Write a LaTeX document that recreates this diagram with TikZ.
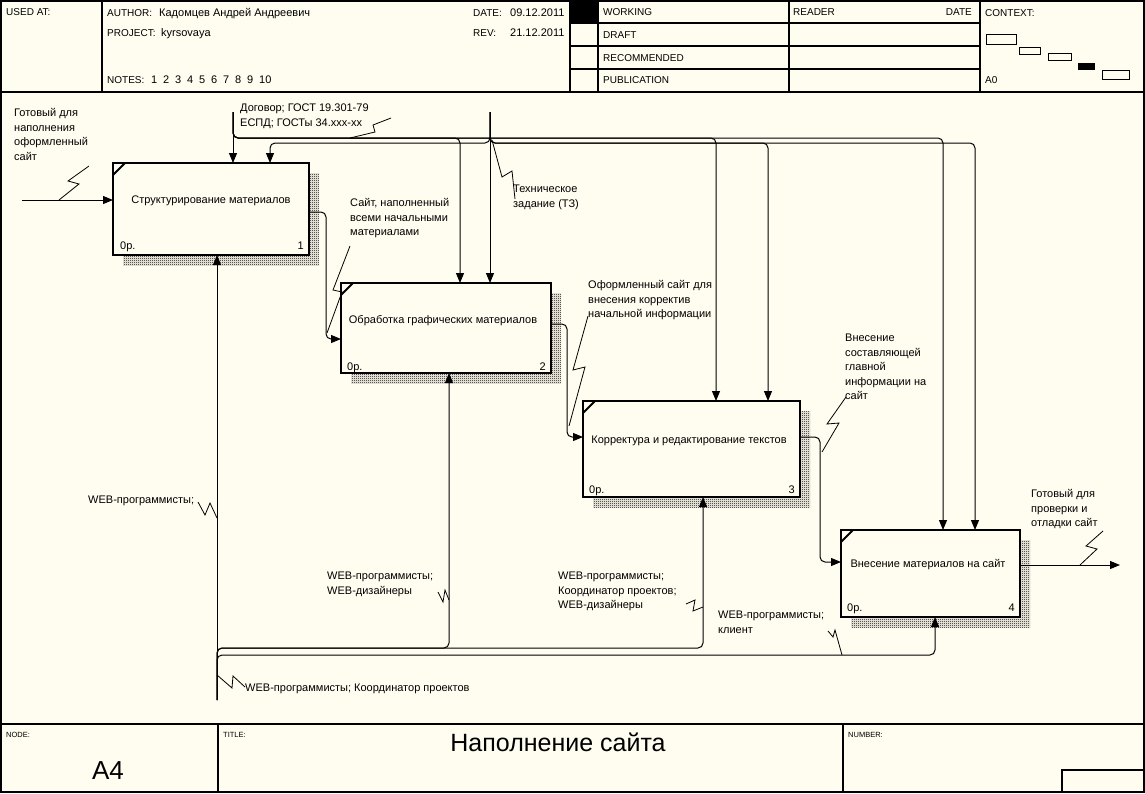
\documentclass[tikz,border=0pt]{standalone}
\usepackage{fontspec}
\setmainfont{Liberation Sans}
\usetikzlibrary{arrows.meta,patterns}
\definecolor{bgc}{RGB}{255,252,240}
\pgfdeclarepatternformonly{idefdots}{\pgfpointorigin}{\pgfpoint{2pt}{2pt}}{\pgfpoint{2pt}{2pt}}{%
 \pgfpathrectangle{\pgfpointorigin}{\pgfpoint{1pt}{1pt}}%
 \pgfpathrectangle{\pgfpoint{1pt}{1pt}}{\pgfpoint{1pt}{1pt}}%
 \pgfusepath{fill}}
\newcommand\idlf{\fontsize{11}{14.5}\selectfont}
\newcommand\idhf{\fontsize{10}{12}\selectfont}
\newcommand\idsm{\fontsize{7.5}{9}\selectfont}
\begin{document}
\begin{tikzpicture}[x=1pt,y=-1pt,
  conn/.style={line width=1pt,-{Triangle[length=10pt,width=8pt]},rounded corners=5pt},
  squig/.style={line width=0.8pt},
  lbl/.style={font=\idlf,inner sep=0pt,anchor=north west,align=left},
  txt/.style={font=\idlf,inner sep=0pt,anchor=base west},
  txtr/.style={font=\idlf,inner sep=0pt,anchor=base east},
  htxt/.style={font=\idhf,inner sep=0pt,anchor=base west},
  htxtr/.style={font=\idhf,inner sep=0pt,anchor=base east},
  smtxt/.style={font=\idsm,inner sep=0pt,anchor=base west},
  actbox/.style={draw,line width=2pt,fill=bgc,anchor=north west,inner sep=0pt,outer sep=0pt},
  btext/.style={font=\idlf,inner sep=0pt},
  shadow/.style={pattern=idefdots},
  tick/.style={line width=2pt},
  frame/.style={line width=1.5pt},
  thinframe/.style={line width=1.2pt}]
% background and bounding box
\fill[bgc] (0,0) rectangle (1145,793);
\useasboundingbox (0,0) rectangle (1145,793);

% ---------- frame / header ----------
\draw[frame] (1,1) rectangle (1144,792);
\draw[frame] (1,92) -- (1144,92);
\draw[frame] (102,1) -- (102,92);
\draw[frame] (570,1) -- (570,92);
\draw[thinframe] (598,1) -- (598,92);
\draw[thinframe] (789,1) -- (789,92);
\draw[frame] (980,1) -- (980,92);
\draw[thinframe] (570,23) -- (980,23);
\draw[thinframe] (570,46) -- (980,46);
\draw[thinframe] (570,69) -- (980,69);
\fill (570,1) rectangle (598,23);

\node[htxt] (usedat) at (6,15) {USED AT:};
\node[htxt] (author) at (107,16) {AUTHOR:};
\node[txt] (authorv) at (159,16) {Кадомцев Андрей Андреевич};
\node[htxt] (project) at (107,36) {PROJECT:};
\node[txt] (projectv) at (161,36) {kyrsovaya};
\node[htxt] (notes) at (107,83) {NOTES:};
\foreach \n [count=\i] in {1,2,3,4,5,6,7,8,9,10}
  \node[txt] (note\i) at ({151+12*(\i-1)},83) {\n};
\node[htxt] (date) at (473,16) {DATE:};
\node[txt] (datev) at (510,16) {09.12.2011};
\node[htxt] (rev) at (473,36) {REV:};
\node[txt] (revv) at (510,36) {21.12.2011};
\node[htxt] (working) at (603,15) {WORKING};
\node[htxt] (draft) at (603,38) {DRAFT};
\node[htxt] (recom) at (603,61) {RECOMMENDED};
\node[htxt] (publ) at (603,83) {PUBLICATION};
\node[htxt] (reader) at (793,15) {READER};
\node[htxtr] (rdate) at (972,15) {DATE};
\node[htxt] (context) at (985,16) {CONTEXT:};
\node[htxt] (a0) at (985,83) {A0};
% context miniature
\draw[line width=1pt] (986,34.5) rectangle (1016,44.5);
\draw[line width=1pt] (1019,47) rectangle (1040,54);
\draw[line width=1pt] (1048,53.5) rectangle (1071,60);
\fill (1078,63) rectangle (1095,69.5);
\draw[line width=1pt] (1102,70) rectangle (1129,79);

% ---------- footer ----------
\draw[frame] (1,724) -- (1144,724);
\draw[frame] (218,724) -- (218,792);
\draw[frame] (843,724) -- (843,792);
\draw[frame] (1062,770) rectangle (1144,792);
\node[smtxt] (nodelbl) at (6,737) {NODE:};
\node[smtxt] (titlelbl) at (223,737) {TITLE:};
\node[smtxt] (numlbl) at (848,737) {NUMBER:};
\node[font=\fontsize{25}{30}\selectfont,inner sep=0pt,anchor=base] (title) at (558,751) {Наполнение сайта};
\node[font=\fontsize{26}{30}\selectfont,inner sep=0pt,anchor=base] (nodeid) at (108,779) {A4};

% ---------- shadows ----------
\fill[shadow] (123,173) rectangle (319,265);
\fill[shadow] (351,293) rectangle (561,383);
\fill[shadow] (593,411) rectangle (810,507);
\fill[shadow] (851,540) rectangle (1030,627);

% ---------- activity boxes ----------
\node[actbox,minimum width=196pt,minimum height=92pt] (b1) at (113,163) {};
\node[actbox,minimum width=210pt,minimum height=90pt] (b2) at (341,283) {};
\node[actbox,minimum width=217pt,minimum height=96pt] (b3) at (583,401) {};
\node[actbox,minimum width=179pt,minimum height=87pt] (b4) at (841,530) {};
\draw[tick] (113,175) -- (125,163);
\draw[tick] (341,295) -- (353,283);
\draw[tick] (583,413) -- (595,401);
\draw[tick] (841,542) -- (853,530);

\node[btext] (t1) at (211,201) {Структурирование материалов};
\node[btext] (t2) at (443,321) {Обработка графических материалов};
\node[btext] (t3) at (689,441) {Корректура и редактирование текстов};
\node[btext] (t4) at (928,565) {Внесение материалов на сайт};
\node[txt] (p1) at (120,249) {0р.};
\node[txtr] (n1) at (304,249) {1};
\node[txt] (p2) at (347,370) {0р.};
\node[txtr] (n2) at (546,370) {2};
\node[txt] (p3) at (589,493) {0р.};
\node[txtr] (n3) at (795,493) {3};
\node[txt] (p4) at (847,611) {0р.};
\node[txtr] (n4) at (1015,611) {4};

% ---------- free ends ----------
\coordinate (in1) at (22,200);
\coordinate (out4) at (1120,565);
\coordinate (c1) at (233,112);
\coordinate (c2) at (490,112);
\coordinate (m1) at (217,700);

% ---------- inputs / outputs ----------
\draw[conn] (in1) -- (in1 -| b1.west);
\draw[conn] (b1.east |- 0,212) -- (326,212) -- (326,339) -- (b2.west |- 0,339);
\draw[conn] (b2.east |- 0,324) -- (567,324) -- (567,437) -- (b3.west |- 0,437);
\draw[conn] (b3.east |- 0,437) -- (820,437) -- (820,562) -- (b4.west |- 0,562);
\draw[conn] (b4.east |- out4) -- (out4);

% ---------- controls ----------
\draw[conn] (c1) -- (c1 |- b1.north);
\draw[conn] (c1) -- (233,138) -- (460,138) -- (460,0 |- b2.north);
\draw[conn] (c1) -- (233,138) -- (716,138) -- (716,0 |- b3.north);
\draw[conn] (c1) -- (233,138) -- (943,138) -- (943,0 |- b4.north);
\draw[conn] (c2) -- (c2 |- b2.north);
\draw[conn] (c2) -- (490,143) -- (270,143) -- (270,0 |- b1.north);
\draw[conn] (c2) -- (490,143) -- (768,143) -- (768,0 |- b3.north);
\draw[conn] (c2) -- (490,143) -- (975,143) -- (975,0 |- b4.north);

% ---------- mechanisms ----------
\draw[conn] (m1) -- (m1 |- b1.south);
\draw[conn] (m1) -- (217,648) -- (449,648) -- (449,0 |- b2.south);
\draw[conn] (m1) -- (217,648) -- (703,648) -- (703,0 |- b3.south);
\draw[conn] (m1) -- (217,655) -- (935,655) -- (935,0 |- b4.south);

% ---------- arrow labels ----------
\node[lbl] (l_in) at (14,106.5) {\strut Готовый для\\наполнения\\оформленный\\сайт};
\node[lbl] (l_c1) at (240,101.5) {\strut Договор; ГОСТ 19.301-79\\ЕСПД; ГОСТы 34.xxx-xx};
\node[lbl] (l_c2) at (513,182.5) {\strut Техническое\\задание (ТЗ)};
\node[lbl] (l_o1) at (350,196.5) {\strut Сайт, наполненный\\всеми начальными\\материалами};
\node[lbl] (l_o2) at (588,278.5) {\strut Оформленный сайт для\\внесения корректив\\начальной информации};
\node[lbl] (l_o3) at (845,331.5) {\strut Внесение\\составляющей\\главной\\информации на\\сайт};
\node[lbl] (l_o4) at (1031,487.5) {\strut Готовый для\\проверки и\\отладки сайт};
\node[lbl] (l_m1) at (88,493.5) {\strut WEB-программисты;};
\node[lbl] (l_m2) at (327,569.5) {\strut WEB-программисты;\\WEB-дизайнеры};
\node[lbl] (l_m3) at (558,569.5) {\strut WEB-программисты;\\Координатор проектов;\\WEB-дизайнеры};
\node[lbl] (l_m4) at (718,608.5) {\strut WEB-программисты;\\клиент};
\node[lbl] (l_m0) at (245,681.5) {\strut WEB-программисты; Координатор проектов};

% ---------- squiggles ----------
\draw[squig] (59,200) -- (79,184) -- (68,181) -- (89,166);
\draw[squig] (391,118) -- (373,125) -- (375,132) -- (350,138);
\draw[squig] (492,140) -- (502,177) -- (512,171) -- (515,199);
\draw[squig] (350,246) -- (333,290) -- (342,292) -- (327,333);
\draw[squig] (588,316) -- (573,370) -- (585,367) -- (569,426);
\draw[squig] (846,397) -- (827,424) -- (839,423) -- (822,452);
\draw[squig] (1103,531) -- (1086,546) -- (1097,549) -- (1080,565);
\draw[squig] (198,502) -- (205,515) -- (210,503) -- (217,518);
\draw[squig] (438,592) -- (443,602) -- (445,590) -- (449,600);
\draw[squig] (686,604) -- (695,600) -- (693,611) -- (703,607);
\draw[squig] (828,631) -- (833,637) -- (835,630) -- (842,655);
\draw[squig] (217,675) -- (232,688) -- (233,676) -- (245,687);
\end{tikzpicture}
\end{document}
